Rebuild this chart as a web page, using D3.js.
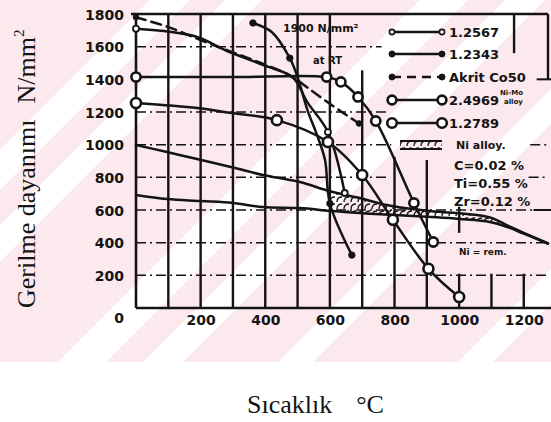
<!DOCTYPE html>
<html>
<head>
<meta charset="utf-8">
<script src="https://cdn.jsdelivr.net/npm/d3@7"></script>
<style>
  html, body { margin: 0; padding: 0; background: #fff; }
  svg { display: block; }
</style>
</head>
<body>
<svg id="chart" width="551" height="422"></svg>
<script>
// Tensile strength of high-temperature alloys against temperature

const yTicks = [0, 200, 400, 600, 800, 1000, 1200, 1400, 1600, 1800];
const xTicks = [200, 400, 600, 800, 1000, 1200];
const xTickLabels = ["200", "400", "600", "800", "1000", "1200"];

const legendNames = ["1.2567", "1.2343", "Akrit Co50", "2.4969", "1.2789"];
const niAlloyNotes = ["Ni alloy.", "C=0.02 %", "Ti=0.55 %", "Zr=0.12 %"];

// [temperature °C, strength N/mm², measured point marked]
const steel12567 = [[0, 1710, 1], [180, 1665, 0], [280, 1575, 0], [390, 1490, 0], [486, 1410, 0],
                    [530, 1260, 0], [594, 1077, 1], [646, 704, 1]];
const steel12343 = [[362, 1745, 1], [420, 1690, 0], [476, 1530, 1], [500, 1414, 0], [530, 1215, 0],
                    [560, 1060, 0], [585, 906, 0], [600, 640, 1], [668, 324, 1]];
const akritCo50  = [[0, 1780, 1], [100, 1720, 0], [200, 1640, 0], [300, 1565, 0], [380, 1505, 0],
                    [480, 1420, 0], [530, 1350, 0], [600, 1250, 0], [690, 1130, 1]];
const alloy24969 = [[0, 1414, 1], [300, 1414, 0], [590, 1414, 1], [634, 1384, 1], [687, 1292, 1],
                    [742, 1145, 1], [860, 643, 1], [920, 404, 1]];
const steel12789 = [[0, 1255, 1], [190, 1224, 0], [290, 1195, 0], [436, 1150, 1], [594, 1016, 1],
                    [700, 814, 1], [795, 540, 1], [905, 240, 1], [1000, 67, 1]];
// Ni alloy scatter band: upper and lower bound
const niUpper = [[0, 998], [96, 955], [189, 912], [300, 860], [393, 814], [507, 771], [600, 715],
                 [693, 673], [776, 630], [900, 595], [1000, 580], [1095, 555], [1150, 505], [1200, 460], [1275, 395]];
const niLower = [[0, 692], [96, 667], [200, 655], [300, 643], [393, 618], [507, 612], [600, 595],
                 [700, 580], [800, 570], [930, 555], [1000, 545], [1095, 527], [1150, 495], [1200, 455], [1275, 395]];

const svg = d3.select("#chart");
const W = 551, H = 422;
const ink = "#141414";
const sans = "'DejaVu Sans', sans-serif";
const serif = "'Liberation Serif', 'Times New Roman', serif";

// ---- background wash with light diagonal bands
const bg = svg.append("g");
const bandH = 362;
bg.append("rect").attr("x", 0).attr("y", 0).attr("width", W).attr("height", bandH).attr("fill", "#fce9ed");
const whiteBands = [[150, 190], [225, 262], [420, 468], [505, 545], [640, 675], [820, 855]];
bg.append("clipPath").attr("id", "bgclip").append("rect").attr("width", W).attr("height", bandH);
bg.append("g").attr("clip-path", "url(#bgclip)")
  .selectAll("polygon").data(whiteBands).join("polygon")
  .attr("points", d => `${d[0]},0 ${d[1]},0 ${d[1] - bandH},${bandH} ${d[0] - bandH},${bandH}`)
  .attr("fill", "#ffffff");

// ---- scales
const x = d3.scaleLinear().domain([0, 1275]).range([136, 548]);
const y = d3.scaleLinear().domain([0, 1800]).range([308, 14]);

const grid = svg.append("g");

// horizontal dash-dot grid lines: [value, from °C, to °C]
const hGrid = [[200, 0, 1275], [400, 0, 1275], [600, 0, 1275], [800, 0, 780], [800, 1215, 1275],
               [1000, 0, 790], [1000, 1220, 1275], [1200, 0, 780], [1600, 0, 760]];
grid.selectAll("line.h").data(hGrid).join("line")
  .attr("x1", d => x(d[1])).attr("x2", d => x(d[2]))
  .attr("y1", d => y(d[0])).attr("y2", d => y(d[0]))
  .attr("stroke", ink).attr("stroke-width", 1.5)
  .attr("stroke-dasharray", "10,4,2,4");

// solid vertical grid lines: [°C, from, to]
const vGrid = [[100, 0, 1800], [200, 0, 1800], [300, 0, 1800], [400, 0, 1800], [500, 0, 1800],
               [600, 0, 1800], [700, 0, 1455], [800, 0, 925], [900, 0, 906],
               [1000, 0, 210], [1000, 460, 620], [1100, 0, 210], [1200, 0, 210], [1170, 1560, 1800]];
grid.selectAll("line.v").data(vGrid).join("line")
  .attr("x1", d => x(d[0])).attr("x2", d => x(d[0]))
  .attr("y1", d => y(d[1])).attr("y2", d => y(d[2]))
  .attr("stroke", ink).attr("stroke-width", 2.4);

// frame: left axis, bottom axis, top border, right border stub
grid.append("line").attr("x1", x(0)).attr("x2", x(0)).attr("y1", y(0)).attr("y2", y(1800))
  .attr("stroke", ink).attr("stroke-width", 2.6);
grid.append("line").attr("x1", x(0)).attr("x2", W).attr("y1", y(0)).attr("y2", y(0))
  .attr("stroke", ink).attr("stroke-width", 2.6);
grid.append("line").attr("x1", x(0) - 5).attr("x2", x(1275)).attr("y1", y(1800)).attr("y2", y(1800))
  .attr("stroke", ink).attr("stroke-width", 2.6);
grid.append("line").attr("x1", x(1275)).attr("x2", x(1275)).attr("y1", y(1800)).attr("y2", y(1400))
  .attr("stroke", ink).attr("stroke-width", 2.4);
grid.append("line").attr("x1", x(1240)).attr("x2", W).attr("y1", y(1400)).attr("y2", y(1400))
  .attr("stroke", ink).attr("stroke-width", 2);
grid.append("line").attr("x1", x(1230)).attr("x2", W).attr("y1", y(600)).attr("y2", y(600))
  .attr("stroke", ink).attr("stroke-width", 2);

// ---- axes (labels only)
const yAxis = d3.axisLeft(y).tickValues(yTicks).tickSize(0).tickPadding(0).tickFormat(d3.format("d"));
const gy = svg.append("g").attr("transform", "translate(124,0)").call(yAxis);
gy.select(".domain").remove();
gy.selectAll("text")
  .attr("font-family", sans).attr("font-weight", "bold")
  .attr("font-size", 14).attr("fill", ink)
  .attr("dy", d => d === 0 ? "1.05em" : "0.36em");

const xAxis = d3.axisBottom(x).tickValues(xTicks).tickSize(0).tickPadding(0)
  .tickFormat((d, i) => xTickLabels[i]);
const gx = svg.append("g").attr("transform", "translate(0,315)").call(xAxis);
gx.select(".domain").remove();
gx.selectAll("text")
  .attr("font-family", sans).attr("font-weight", "bold")
  .attr("font-size", 14).attr("fill", ink).attr("dy", "0.72em");

// ---- Ni alloy band with scalloped hatching where the bounds close up
const defs = svg.append("defs");
const pat = defs.append("pattern").attr("id", "hatch").attr("patternUnits", "userSpaceOnUse")
  .attr("width", 7).attr("height", 7);
pat.append("path").attr("d", "M1,6 Q1,1 6,1").attr("fill", "none").attr("stroke", ink).attr("stroke-width", 1.3);
defs.append("clipPath").attr("id", "bandclip").append("rect")
  .attr("x", x(600)).attr("y", 0).attr("width", x(1160) - x(600)).attr("height", H);

const band = niUpper.map((d, i) => ({ t: d[0], hi: d[1], lo: niLower[i][1] }));
svg.append("path").datum(band)
  .attr("clip-path", "url(#bandclip)")
  .attr("d", d3.area().x(d => x(d.t)).y0(d => y(d.lo)).y1(d => y(d.hi)).curve(d3.curveMonotoneX))
  .attr("fill", "url(#hatch)");

const line = d3.line().x(d => x(d[0])).y(d => y(d[1])).curve(d3.curveCatmullRom.alpha(0.5));
const curves = svg.append("g").attr("fill", "none").attr("stroke", ink).attr("stroke-width", 2.5)
  .attr("stroke-linejoin", "round").attr("stroke-linecap", "round");
curves.append("path").datum(niUpper).attr("d", line);
curves.append("path").datum(niLower).attr("d", line);
curves.append("path").datum(steel12567).attr("d", line);
curves.append("path").datum(steel12343).attr("d", line);
curves.append("path").datum(akritCo50).attr("d", line).attr("stroke-dasharray", "10,6");
curves.append("path").datum(alloy24969).attr("d", line);
curves.append("path").datum(steel12789).attr("d", line);

// ---- markers
function marks(data, r, filled, sw) {
  svg.append("g").selectAll("circle").data(data.filter(d => d[2])).join("circle")
    .attr("cx", d => x(d[0])).attr("cy", d => y(d[1])).attr("r", r)
    .attr("fill", filled ? ink : "#fff").attr("stroke", ink).attr("stroke-width", sw);
}
marks(steel12567, 3, false, 1.8);
marks(steel12343, 3.2, true, 1);
marks(akritCo50, 2.8, true, 1);
marks(alloy24969, 4.6, false, 2.6);
marks(steel12789, 5, false, 2.6);

// ---- legend
const lg = svg.append("g");
const lx1 = 392, lx2 = 442, tx = 449;
const rows = [32, 54, 77, 100, 123];
const styles = [
  { r: 2.6, fill: false, sw: 1.6, dash: null },
  { r: 3, fill: true, sw: 1, dash: null },
  { r: 3, fill: true, sw: 1, dash: "9,6" },
  { r: 4.4, fill: false, sw: 2.6, dash: null },
  { r: 4.8, fill: false, sw: 2.6, dash: null }
];
legendNames.forEach((name, i) => {
  const s = styles[i], yy = rows[i];
  lg.append("line").attr("x1", lx1).attr("x2", lx2).attr("y1", yy).attr("y2", yy)
    .attr("stroke", ink).attr("stroke-width", 2.4).attr("stroke-dasharray", s.dash);
  [lx1, lx2].forEach(cx => lg.append("circle").attr("cx", cx).attr("cy", yy).attr("r", s.r)
    .attr("fill", s.fill ? ink : "#fff").attr("stroke", ink).attr("stroke-width", s.sw));
  lg.append("text").attr("x", tx).attr("y", yy).attr("dy", "0.36em")
    .attr("font-family", sans).attr("font-weight", "bold")
    .attr("font-size", 13).attr("fill", ink).text(name);
});
// superscript note next to 2.4969
lg.append("text").attr("x", 500).attr("y", 95)
  .attr("font-family", sans).attr("font-weight", "bold")
  .attr("font-size", 7).attr("fill", ink).text("Ni-Mo");
lg.append("text").attr("x", 504).attr("y", 104)
  .attr("font-family", sans).attr("font-weight", "bold")
  .attr("font-size", 7).attr("fill", ink).text("alloy");

// hatched band symbol
lg.append("line").attr("x1", 400).attr("x2", 442).attr("y1", 141).attr("y2", 141).attr("stroke", ink).attr("stroke-width", 2);
lg.append("line").attr("x1", 400).attr("x2", 442).attr("y1", 149).attr("y2", 149).attr("stroke", ink).attr("stroke-width", 2);
lg.append("rect").attr("x", 400).attr("y", 141).attr("width", 42).attr("height", 8).attr("fill", "url(#hatch)");

niAlloyNotes.forEach((t, i) => {
  lg.append("text").attr("x", i === 0 ? 456 : 454).attr("y", [145, 165, 183, 201][i]).attr("dy", "0.36em")
    .attr("font-family", sans).attr("font-weight", "bold")
    .attr("font-size", i === 0 ? 11 : 13).attr("fill", ink).text(t);
});
lg.append("text").attr("x", 459).attr("y", 252).attr("dy", "0.36em")
  .attr("font-family", sans).attr("font-weight", "bold")
  .attr("font-size", 9).attr("fill", ink).text("Ni = rem.");

// room-temperature strength note
const note = svg.append("g").attr("font-family", sans).attr("font-weight", "bold").attr("fill", ink);
note.append("text").attr("x", 283).attr("y", 32).attr("font-size", 11).text("1900 N/mm²");
note.append("text").attr("x", 313).attr("y", 64).attr("font-size", 10).text("at RT");

// ---- axis titles
svg.append("text")
  .attr("transform", "translate(35,308) rotate(-90)")
  .attr("font-family", serif).attr("font-size", 26).attr("fill", ink)
  .call(t => {
    t.append("tspan").text("Gerilme dayanımı");
    t.append("tspan").attr("dx", 16).text("N/mm");
    t.append("tspan").attr("dy", -11).attr("font-size", 15).text("2");
  });
svg.append("text").attr("x", 247).attr("y", 413)
  .attr("font-family", serif).attr("font-size", 26).attr("fill", ink)
  .call(t => {
    t.append("tspan").text("Sıcaklık");
    t.append("tspan").attr("dx", 24).text("°C");
  });
</script>
</body>
</html>
